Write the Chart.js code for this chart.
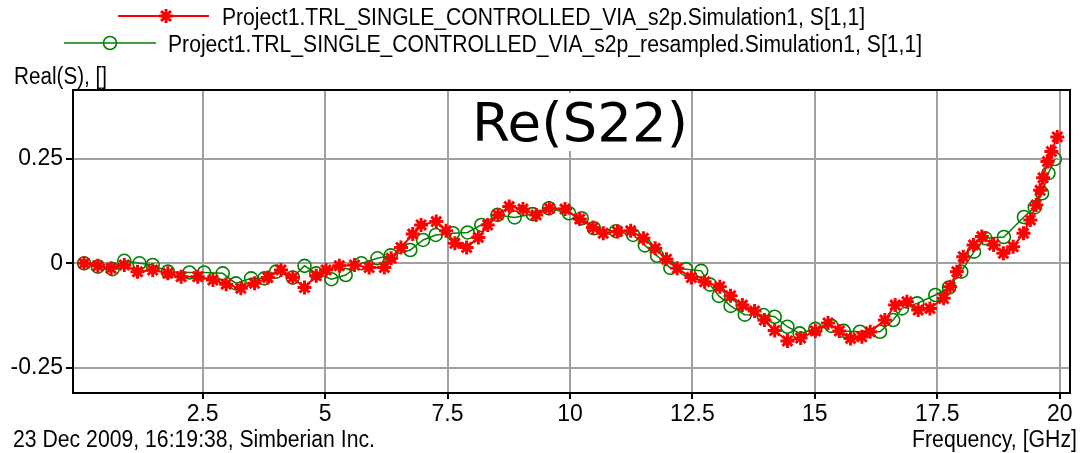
<!DOCTYPE html>
<html>
<head>
<meta charset="utf-8">
<title>Re(S22)</title>
<script src="https://cdn.jsdelivr.net/npm/chart.js@4"></script>
<style>
  html, body { margin: 0; padding: 0; background: #fff; }
  #wrap { position: relative; width: 1080px; height: 453px; }
</style>
</head>
<body>
<div id="wrap"><canvas id="sparamChart" width="1080" height="453"></canvas></div>
<script>
// Re(S) of the TRL single controlled via, original sweep and resampled sweep
const measuredFreq = [0.08, 0.36, 0.63, 0.90, 1.17, 1.48, 1.79, 2.06, 2.40, 2.71, 2.98, 3.28, 3.56, 3.83,
  4.10, 4.34, 4.58, 4.82, 5.02, 5.29, 5.60, 5.90, 6.21, 6.35, 6.55, 6.79, 6.96, 7.27, 7.47, 7.65,
  7.89, 8.13, 8.32, 8.53, 8.76, 9.04, 9.31, 9.58, 9.90, 10.20, 10.47, 10.68, 10.97, 11.24, 11.50,
  11.74, 11.97, 12.19, 12.48, 12.75, 13.06, 13.28, 13.52, 13.77, 13.97, 14.18, 14.44, 14.71, 15.01,
  15.27, 15.50, 15.73, 15.96, 16.13, 16.43, 16.64, 16.88, 17.11, 17.35, 17.63, 17.76, 17.90, 18.03,
  18.24, 18.41, 18.65, 18.85, 19.05, 19.26, 19.40, 19.52, 19.60, 19.66, 19.75, 19.83, 19.95];
const measuredRe = [0.0, -0.006, -0.012, -0.004, -0.02, -0.016, -0.024, -0.032, -0.032, -0.04, -0.05, -0.06, -0.048, -0.034,
  -0.016, -0.034, -0.058, -0.03, -0.016, -0.006, -0.004, -0.01, -0.01, 0.012, 0.038, 0.07, 0.092, 0.10, 0.078, 0.048,
  0.038, 0.062, 0.092, 0.116, 0.136, 0.13, 0.116, 0.132, 0.13, 0.106, 0.086, 0.072, 0.076, 0.078, 0.06,
  0.036, 0.01, -0.012, -0.034, -0.044, -0.056, -0.078, -0.10, -0.114, -0.136, -0.161, -0.186, -0.179, -0.162,
  -0.143, -0.162, -0.18, -0.176, -0.164, -0.136, -0.10, -0.092, -0.112, -0.108, -0.084, -0.056, -0.02, 0.016,
  0.044, 0.064, 0.044, 0.024, 0.04, 0.072, 0.104, 0.14, 0.175, 0.205, 0.244, 0.268, 0.303];

const resampledFreq = [0.08, 0.36, 0.66, 0.90, 1.21, 1.48, 1.79, 2.23, 2.53, 2.91, 3.18, 3.49, 3.76, 4.00,
  4.34, 4.58, 4.82, 5.13, 5.42, 5.74, 6.07, 6.34, 6.74, 7.00, 7.26, 7.61, 7.91, 8.19, 8.52, 8.87,
  9.24, 9.57, 9.98, 10.24, 10.49, 10.94, 11.29, 11.53, 11.78, 12.05, 12.37, 12.68, 12.86, 13.04, 13.28,
  13.57, 13.95, 14.18, 14.44, 14.69, 15.01, 15.34, 15.59, 15.92, 16.33, 16.60, 16.78, 17.09, 17.46,
  17.74, 17.99, 18.25, 18.48, 18.86, 19.27, 19.49, 19.64, 19.77, 19.90];
const resampledRe = [0.0, -0.008, -0.014, 0.006, 0.0, -0.004, -0.02, -0.022, -0.022, -0.024, -0.048, -0.036, -0.036, -0.02,
  -0.034, -0.006, -0.024, -0.038, -0.028, 0.0, 0.012, 0.019, 0.032, 0.056, 0.068, 0.072, 0.074, 0.092, 0.116, 0.11,
  0.118, 0.132, 0.12, 0.108, 0.084, 0.077, 0.068, 0.043, 0.018, -0.011, -0.014, -0.018, -0.051, -0.078, -0.102,
  -0.123, -0.124, -0.128, -0.152, -0.168, -0.157, -0.15, -0.162, -0.164, -0.164, -0.136, -0.108, -0.096, -0.076,
  -0.058, -0.02, 0.028, 0.06, 0.063, 0.111, 0.134, 0.168, 0.216, 0.25];

const freqTicks = [2.5, 5, 7.5, 10, 12.5, 15, 17.5, 20];
const reTicks = [-0.25, 0, 0.25];
const seriesNames = [
  'Project1.TRL_SINGLE_CONTROLLED_VIA_s2p.Simulation1, S[1,1]',
  'Project1.TRL_SINGLE_CONTROLLED_VIA_s2p_resampled.Simulation1, S[1,1]'
];
const plotTitle = 'Re(S22)';
const yAxisName = 'Real(S), []';
const xAxisName = 'Frequency, [GHz]';
const stampText = '23 Dec 2009, 16:19:38, Simberian Inc.';

const TEXT_FONT = "'Liberation Sans Narrow', 'Liberation Sans', Arial, sans-serif";
const GRID_GREY = '#a0a0a0';

function toPoints(xs, ys) {
  return xs.map((x, i) => ({ x: x, y: ys[i] }));
}

// draw text squeezed/stretched to a given width
function fitText(ctx, text, x, y, width) {
  const w = ctx.measureText(text).width;
  ctx.save();
  ctx.translate(x, y);
  ctx.scale(width / w, 1);
  ctx.fillText(text, 0, 0);
  ctx.restore();
}

// frame, title box, legend rows and the loose labels
const decorations = {
  id: 'decorations',
  afterDatasetsDraw(chart) {
    const ctx = chart.ctx;
    const a = chart.chartArea;
    ctx.save();
    // top and right edges of the plot frame
    ctx.strokeStyle = '#000';
    ctx.lineWidth = 2;
    ctx.beginPath();
    ctx.moveTo(a.left, a.top);
    ctx.lineTo(a.right, a.top);
    ctx.lineTo(a.right, a.bottom);
    ctx.stroke();

    // title sits on its own white box
    ctx.fillStyle = '#fff';
    ctx.fillRect(470, 93, 218, 58);
    ctx.fillStyle = '#000';
    ctx.font = "53px 'DejaVu Sans', sans-serif";
    ctx.textBaseline = 'alphabetic';
    fitText(ctx, plotTitle, 472, 141, 216);
    ctx.restore();
  },
  afterDraw(chart) {
    const ctx = chart.ctx;
    const ds = chart.data.datasets;
    ctx.save();

    // legend rows: line sample, marker, name
    const rows = [
      { x0: 118, x1: 209, mx: 166, y: 16, tx: 222, tw: 643, base: 25 },
      { x0: 64, x1: 156, mx: 110, y: 43, tx: 168, tw: 754, base: 52 }
    ];
    rows.forEach((r, i) => {
      const d = ds[i];
      ctx.strokeStyle = d.borderColor;
      ctx.lineWidth = d.borderWidth;
      ctx.beginPath();
      ctx.moveTo(r.x0, r.y);
      ctx.lineTo(r.x1, r.y);
      ctx.stroke();
      ctx.strokeStyle = d.pointBorderColor;
      ctx.fillStyle = d.pointBackgroundColor;
      ctx.lineWidth = d.pointBorderWidth;
      Chart.helpers.drawPoint(ctx, {
        pointStyle: d.pointStyle, radius: d.pointRadius, rotation: 0, borderWidth: d.pointBorderWidth
      }, r.mx, r.y);
      ctx.fillStyle = '#000';
      ctx.font = '23px ' + TEXT_FONT;
      ctx.textBaseline = 'alphabetic';
      fitText(ctx, seriesNames[i], r.tx, r.base, r.tw);
    });

    ctx.fillStyle = '#000';
    ctx.font = '23px ' + TEXT_FONT;
    fitText(ctx, yAxisName, 14, 84, 93);
    fitText(ctx, stampText, 13, 447, 362);
    fitText(ctx, xAxisName, 912, 447, 165);
    ctx.restore();
  }
};

const tickFont = { family: TEXT_FONT, size: 23 };

new Chart(document.getElementById('sparamChart'), {
  type: 'line',
  data: {
    datasets: [
      {
        label: seriesNames[0],
        data: toPoints(measuredFreq, measuredRe),
        borderColor: '#ff0000',
        borderWidth: 2,
        pointStyle: 'star',
        pointRadius: 7,
        pointBorderWidth: 3,
        pointBorderColor: '#ff0000',
        pointBackgroundColor: '#ff0000',
        tension: 0,
        fill: false
      },
      {
        label: seriesNames[1],
        data: toPoints(resampledFreq, resampledRe),
        borderColor: '#008000',
        borderWidth: 1.5,
        pointStyle: 'circle',
        pointRadius: 6.5,
        pointBorderWidth: 1.6,
        pointBorderColor: '#008000',
        pointBackgroundColor: 'rgba(0,0,0,0)',
        tension: 0,
        fill: false
      }
    ]
  },
  options: {
    responsive: false,
    devicePixelRatio: 1,
    animation: false,
    layout: { padding: { left: 0, right: 10, top: 90, bottom: 0 } },
    plugins: {
      legend: { display: false },
      tooltip: { enabled: false }
    },
    scales: {
      x: {
        type: 'linear',
        min: -0.147,
        max: 20.21,
        afterBuildTicks: s => { s.ticks = freqTicks.map(v => ({ value: v })); },
        afterFit: s => { s.height = 60; },
        grid: { color: GRID_GREY, lineWidth: 2, tickColor: '#000', tickLength: 6, tickWidth: 2 },
        border: { color: '#000', width: 2 },
        ticks: { color: '#000', font: tickFont, padding: 2, maxRotation: 0, autoSkip: false,
                 callback: v => String(v) }
      },
      y: {
        type: 'linear',
        min: -0.3108,
        max: 0.4154,
        afterBuildTicks: s => { s.ticks = reTicks.map(v => ({ value: v })); },
        afterFit: s => { s.width = 73; },
        grid: { color: GRID_GREY, lineWidth: 2, tickColor: '#000', tickLength: 7, tickWidth: 2 },
        border: { color: '#000', width: 2 },
        ticks: { color: '#000', font: tickFont, padding: 3, autoSkip: false,
                 callback: v => String(v) }
      }
    }
  },
  plugins: [decorations]
});
</script>
</body>
</html>
